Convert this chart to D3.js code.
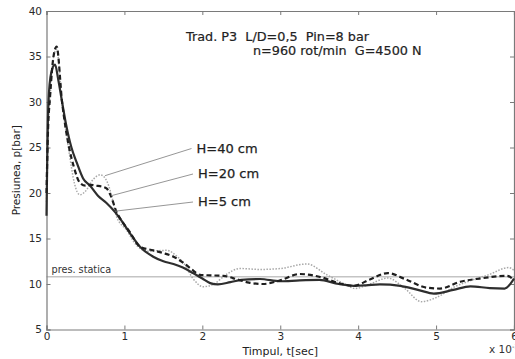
<!DOCTYPE html>
<html>
<head>
<meta charset="utf-8">
<script src="https://cdn.jsdelivr.net/npm/d3@7"></script>
<style>
  body { margin: 0; background: #fff; }
  svg { display: block; font-family: "DejaVu Sans", sans-serif; }
  text { white-space: pre; }
</style>
</head>
<body>
<div id="chart"></div>
<script>
// values, t in units of 1e-3 s, p in bar
const tSolid = [0, 0.01, 0.025, 0.06, 0.11, 0.15, 0.2, 0.25, 0.32, 0.39, 0.47, 0.56, 0.66, 0.77, 0.88, 0.96, 1.07, 1.2, 1.37, 1.5, 1.63, 1.75, 1.88, 2.0, 2.1, 2.2, 2.36, 2.5, 2.74, 3.0, 3.25, 3.5, 3.75, 3.94, 4.1, 4.28, 4.54, 4.79, 4.97, 5.22, 5.44, 5.69, 5.88, 5.97, 6.0];
const pSolid = [17.5, 24, 30, 33.2, 34.1, 32.5, 30, 27.6, 25, 23.3, 21.6, 20.8, 19.7, 18.9, 17.9, 17.0, 15.6, 14.1, 13.0, 12.5, 12.2, 11.8, 11.2, 10.6, 10.1, 9.95, 10.2, 10.45, 10.55, 10.3, 10.4, 10.45, 10.0, 9.8, 9.85, 9.95, 9.8, 9.3, 8.95, 9.35, 9.75, 9.55, 9.5, 10.2, 10.6];

const tDashed = [0, 0.02, 0.045, 0.09, 0.13, 0.2, 0.29, 0.35, 0.43, 0.5, 0.56, 0.64, 0.71, 0.77, 0.82, 0.9, 0.96, 1.07, 1.2, 1.37, 1.5, 1.63, 1.76, 1.88, 1.97, 2.1, 2.27, 2.45, 2.6, 2.78, 3.0, 3.25, 3.5, 3.77, 3.94, 4.15, 4.38, 4.6, 4.88, 5.05, 5.31, 5.56, 5.91, 6.0];
const pDashed = [20, 27, 30.5, 35, 36.1, 30, 25, 22.9, 21.1, 20.8, 20.9, 20.8, 20.7, 20.5, 19.8, 17.9, 17.0, 15.7, 14.1, 13.7, 13.4, 13.0, 12.3, 11.5, 11.0, 10.95, 10.9, 10.5, 10.15, 10.0, 10.4, 11.1, 10.8, 10.05, 9.8, 10.5, 11.2, 10.55, 9.6, 9.5, 10.25, 10.6, 10.9, 10.4];

const tDotted = [0, 0.02, 0.05, 0.09, 0.13, 0.2, 0.29, 0.36, 0.43, 0.5, 0.6, 0.69, 0.78, 0.85, 0.9, 1.03, 1.15, 1.3, 1.54, 1.68, 1.76, 1.88, 2.01, 2.15, 2.3, 2.48, 2.75, 3.0, 3.34, 3.6, 3.85, 3.96, 4.15, 4.38, 4.6, 4.81, 5.0, 5.24, 5.45, 5.67, 5.93, 6.0];
const pDotted = [19, 27, 31, 35, 35.8, 30, 24.5, 21, 19.8, 20.2, 21.5, 22.0, 21.2, 19.2, 17.4, 15.9, 14.3, 13.6, 13.7, 13.0, 12.3, 10.6, 9.7, 10.0, 11.0, 11.7, 11.6, 11.7, 12.2, 11.0, 9.9, 9.5, 10.0, 10.65, 9.5, 8.06, 8.5, 9.7, 10.4, 11.0, 11.8, 11.5];

const staticPressure = 10.8;
const xTicks = [0, 1, 2, 3, 4, 5, 6];
const yTicks = [5, 10, 15, 20, 25, 30, 35, 40];
const labels = ["H=40 cm", "H=20 cm", "H=5 cm"];
const labelTargets = [[0.75, 21.9], [0.83, 19.7], [0.88, 18.0]];
const titleLines = ["Trad. P3  L/D=0,5  Pin=8 bar", "n=960 rot/min  G=4500 N"];

const width = 515, height = 359;
const margin = {left: 46.5, right: 1, top: 11, bottom: 29.5};

const svg = d3.select('#chart').append('svg')
    .attr('width', width)
    .attr('height', height);

const x = d3.scaleLinear().domain([0, 6]).range([margin.left, width - margin.right]);
const y = d3.scaleLinear().domain([5, 40]).range([height - margin.bottom, margin.top]);

// static pressure reference line
svg.append('line')
    .attr('x1', x(0)).attr('x2', x(6))
    .attr('y1', y(staticPressure)).attr('y2', y(staticPressure))
    .attr('stroke', '#c4c4c4')
    .attr('stroke-width', 1.4);
svg.append('text')
    .attr('x', x(0) + 5).attr('y', y(staticPressure) - 4)
    .attr('font-size', 9.7).attr('fill', '#333')
    .text('pres. statica');

// axes, ticks point inwards like matlab
const axisColor = '#7a7a7a';
const axisBottomG = svg.append('g')
    .attr('transform', 'translate(0,' + y(5) + ')')
    .call(d3.axisBottom(x).tickValues(xTicks).tickSize(-4).tickPadding(3.5).tickFormat(d3.format('d')));
const axisTopG = svg.append('g')
    .attr('transform', 'translate(0,' + y(40) + ')')
    .call(d3.axisTop(x).tickValues(xTicks).tickSize(-4).tickFormat(''));
const axisLeftG = svg.append('g')
    .attr('transform', 'translate(' + x(0) + ',0)')
    .call(d3.axisLeft(y).tickValues(yTicks).tickSize(-4).tickPadding(4.5));
const axisRightG = svg.append('g')
    .attr('transform', 'translate(' + x(6) + ',0)')
    .call(d3.axisRight(y).tickValues(yTicks).tickSize(-4).tickFormat(''));

[axisBottomG, axisTopG, axisLeftG, axisRightG].forEach(function (g) {
    g.selectAll('path').attr('stroke', axisColor).attr('stroke-width', 1.2);
    g.selectAll('line').attr('stroke', axisColor);
    g.selectAll('text')
        .attr('font-family', '"DejaVu Sans", sans-serif')
        .attr('font-size', 10.5)
        .attr('fill', '#2a2a2a');
});

svg.append('text')
    .attr('x', (x(0) + x(6)) / 2).attr('y', 354.5)
    .attr('text-anchor', 'middle')
    .attr('font-size', 11).attr('fill', '#222')
    .text('Timpul, t[sec]');

const expLabel = svg.append('text')
    .attr('x', 489).attr('y', 353)
    .attr('font-size', 10.5).attr('fill', '#333');
expLabel.append('tspan').text('x 10');
expLabel.append('tspan').attr('dy', -4).attr('font-size', 7).text('-3');

svg.append('text')
    .attr('transform', 'translate(20,' + (y(5) + y(40)) / 2 + ') rotate(-90)')
    .attr('text-anchor', 'middle')
    .attr('font-size', 10.5).attr('fill', '#222')
    .text('Presiunea, p[bar]');

// curves
const line = d3.line()
    .curve(d3.curveMonotoneX)
    .x(function (d) { return x(d[0]); })
    .y(function (d) { return y(d[1]); });

const series = [
    {t: tDotted, p: pDotted, stroke: '#a8a8a8', width: 1.5, dash: '1.5,1.5'},
    {t: tSolid, p: pSolid, stroke: '#2e2e2e', width: 2.2, dash: null},
    {t: tDashed, p: pDashed, stroke: '#1e1e1e', width: 2.2, dash: '5,3'}
];

series.forEach(function (s) {
    svg.append('path')
        .datum(d3.zip(s.t, s.p))
        .attr('d', line)
        .attr('fill', 'none')
        .attr('stroke', s.stroke)
        .attr('stroke-width', s.width)
        .attr('stroke-dasharray', s.dash);
});

// labels with leader lines
const labelX = [196.5, 198, 198];
const labelY = [152.5, 178, 206];
labels.forEach(function (lab, i) {
    svg.append('line')
        .attr('x1', labelX[i] - 5).attr('y1', labelY[i] - 4)
        .attr('x2', x(labelTargets[i][0])).attr('y2', y(labelTargets[i][1]))
        .attr('stroke', '#8a8a8a')
        .attr('stroke-width', 0.9);
    svg.append('text')
        .attr('x', labelX[i]).attr('y', labelY[i])
        .attr('font-size', 13).attr('fill', '#1e1e1e')
        .attr('stroke', '#1e1e1e').attr('stroke-width', 0.25)
        .text(lab);
});

svg.selectAll('.title')
    .data(titleLines)
    .enter().append('text')
    .attr('class', 'title')
    .attr('x', function (d, i) { return i === 0 ? 186 : 253; })
    .attr('y', function (d, i) { return i === 0 ? 40.5 : 54.5; })
    .attr('font-size', 12.8).attr('fill', '#222')
    .attr('stroke', '#222').attr('stroke-width', 0.2)
    .text(function (d) { return d; });
</script>
</body>
</html>
